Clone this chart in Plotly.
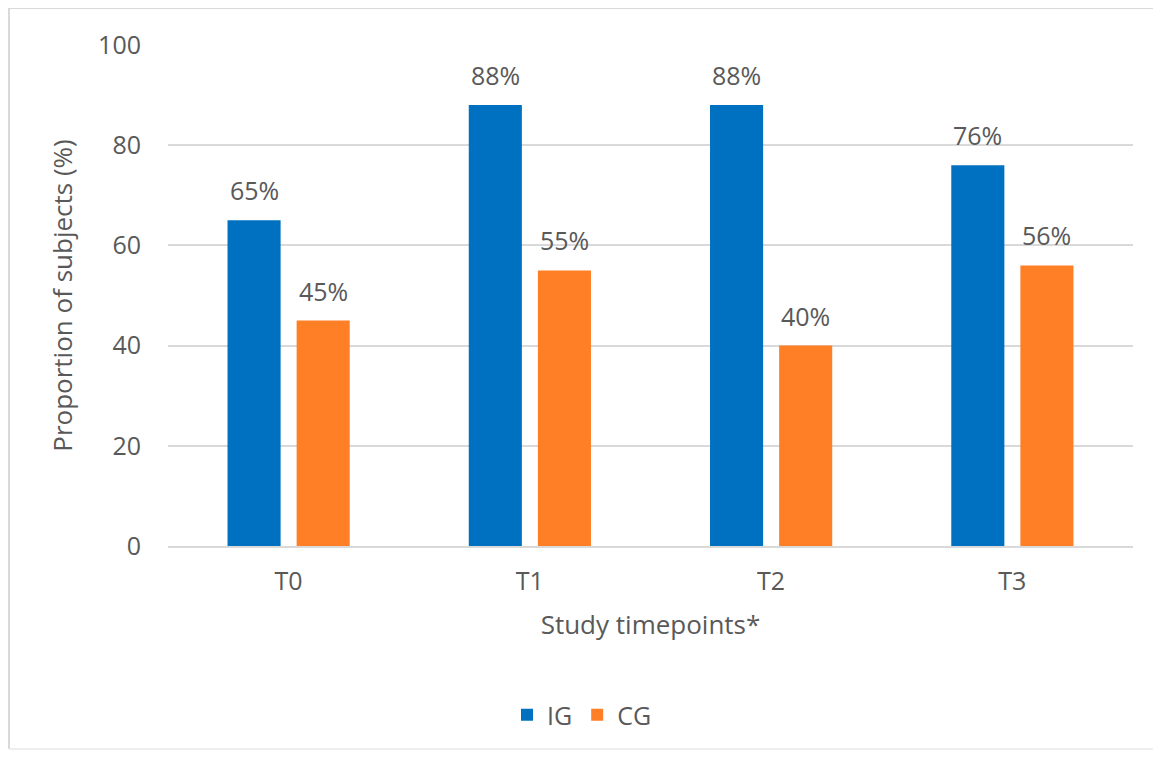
import plotly.graph_objects as go

categories = ["T0", "T1", "T2", "T3"]
ig_values = [65, 88, 88, 76]
cg_values = [45, 55, 40, 56]
ig_labels = ["65%", "88%", "88%", "76%"]
cg_labels = ["45%", "55%", "40%", "56%"]
y_ticks = [0, 20, 40, 60, 80, 100]

OFF = 8  # page offset
W, H = 1161 - 2 * OFF, 758 - 2 * OFF
L, T = 168 - OFF, 45 - OFF
R = W - (1133 - OFF)
B = H - (546 - OFF)
pw, ph = W - L - R, H - T - B

FONT = "Open Sans"
GREY = "#595959"
FS = 25


def px(x):
    return (x - 168) / pw


def py(y):
    return (546 - y) / ph


fig = go.Figure()
fig.add_trace(go.Bar(name="IG", x=categories, y=ig_values, marker_color="#0070C0",
                     marker_line_width=0))
fig.add_trace(go.Bar(name="CG", x=categories, y=cg_values, marker_color="#FF7F27",
                     marker_line_width=0))

annotations = []
shift = 34.5
for c, v, t in zip(categories, ig_values, ig_labels):
    annotations.append(dict(x=c, y=v, text=t, showarrow=False, xref="x", yref="y",
                            xshift=-shift, yshift=30, yanchor="middle",
                            font=dict(family=FONT, size=FS, color=GREY)))
for c, v, t in zip(categories, cg_values, cg_labels):
    annotations.append(dict(x=c, y=v, text=t, showarrow=False, xref="x", yref="y",
                            xshift=shift, yshift=30, yanchor="middle",
                            font=dict(family=FONT, size=FS, color=GREY)))

frame = dict(color="#d9d9d9", width=2)
fig.update_layout(
    width=W, height=H,
    margin=dict(l=L, r=R, t=T, b=B, autoexpand=False),
    paper_bgcolor="white", plot_bgcolor="white",
    barmode="group", bargap=0.427, bargroupgap=0.232,
    font=dict(family=FONT, color=GREY, size=FS),
    showlegend=True,
    legend=dict(orientation="h", x=px(582), xanchor="center",
                y=py(715), yanchor="middle",
                font=dict(family=FONT, size=FS, color=GREY),
                itemwidth=30, traceorder="normal"),
    xaxis=dict(showgrid=False, showline=True, linecolor="#d9d9d9", linewidth=2,
               tickfont=dict(family=FONT, size=FS, color=GREY),
               ticklabelstandoff=12,
               title=dict(text="Study timepoints*", standoff=20,
                          font=dict(family=FONT, size=26, color=GREY))),
    yaxis=dict(range=[0, 100], tickvals=y_ticks, showgrid=True, gridcolor="#d9d9d9",
               gridwidth=2, zeroline=False, showline=False,
               tickfont=dict(family=FONT, size=FS, color=GREY),
               ticklabelstandoff=26,
               title=dict(text="Proportion of subjects (%)", standoff=18,
                          font=dict(family=FONT, size=26, color=GREY))),
    annotations=annotations,
    shapes=[
        dict(type="line", xref="paper", yref="paper", x0=px(9), x1=px(1200),
             y0=py(8), y1=py(8), line=frame, layer="below"),
        dict(type="line", xref="paper", yref="paper", x0=px(9), x1=px(9),
             y0=py(8), y1=py(749), line=frame, layer="below"),
        dict(type="line", xref="paper", yref="paper", x0=px(9), x1=px(1200),
             y0=py(749), y1=py(749), line=dict(color="#eeeeee", width=2), layer="below"),
    ],
)

fig.write_html("out.html")
